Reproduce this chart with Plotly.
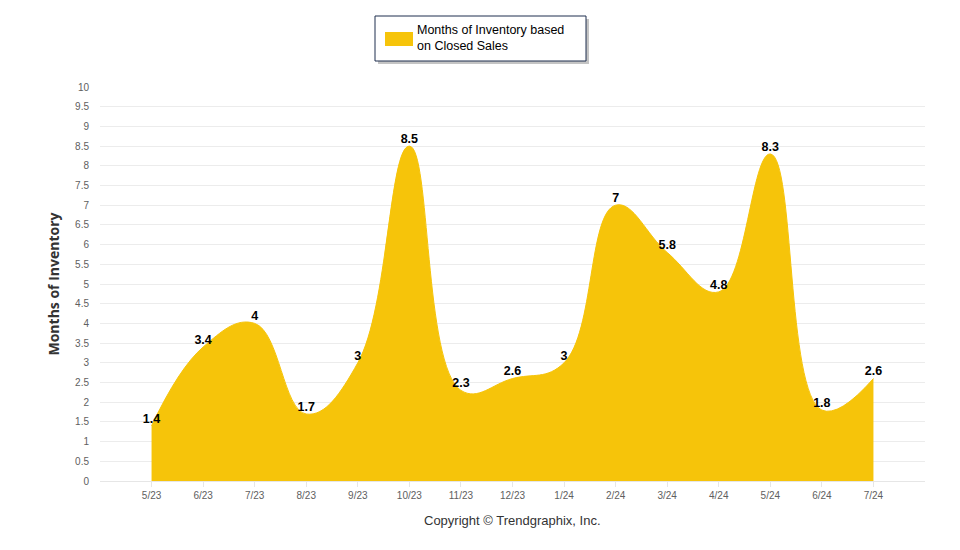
import plotly.graph_objects as go

# Données
mois = ["5/23", "6/23", "7/23", "8/23", "9/23", "10/23", "11/23", "12/23",
        "1/24", "2/24", "3/24", "4/24", "5/24", "6/24", "7/24"]
inventaire = [1.4, 3.4, 4, 1.7, 3, 8.5, 2.3, 2.6, 3, 7, 5.8, 4.8, 8.3, 1.8, 2.6]
y_ticks = [i * 0.5 for i in range(21)]
nom_serie = "Months of Inventory based<br>on Closed Sales"

jaune = "#F6C40A"

# Zone de tracé (pixels de la capture)
X0, X1, Y0, Y1 = 100, 925, 87, 481


def px(x):
    return (x - X0) / (X1 - X0)


def py(y):
    return (Y1 - y) / (Y1 - Y0)


fig = go.Figure()

fig.add_trace(go.Scatter(
    x=mois,
    y=inventaire,
    mode='lines+text',
    line_shape='spline',
    line=dict(color=jaune, width=1, smoothing=1.2),
    fill='tozeroy',
    fillcolor=jaune,
    text=[f"{v:g}" for v in inventaire],
    textposition='top center',
    textfont=dict(family="Arial", size=12.5, color="#000000", weight="bold"),
    name=nom_serie,
    hoverinfo='x+y',
    showlegend=False,
))

# Légende dessinée à la main (boîte + ombre + carré jaune)
formes = [
    dict(type='rect', xref='paper', yref='paper',
         x0=px(378), x1=px(589), y0=py(64), y1=py(19),
         fillcolor='#c4c4c4', line=dict(width=0), layer='above'),
    dict(type='rect', xref='paper', yref='paper',
         x0=px(375), x1=px(586), y0=py(61), y1=py(16),
         fillcolor='white', line=dict(color='#1f2f4f', width=1), layer='above'),
    dict(type='rect', xref='paper', yref='paper',
         x0=px(385), x1=px(413), y0=py(46), y1=py(32),
         fillcolor=jaune, line=dict(width=0), layer='above'),
]

fig.update_layout(
    width=960,
    height=550,
    plot_bgcolor='white',
    paper_bgcolor='white',
    margin=dict(l=92, r=43, t=79, b=77),
    showlegend=False,
    shapes=formes,
    xaxis=dict(
        type='category',
        range=[-1, 15],
        showgrid=False,
        showline=True,
        linecolor='#e6e6e6',
        ticks='outside',
        tickcolor='#e6e6e6',
        ticklen=5,
        tickfont=dict(family="Arial", size=10, color="#606060"),
    ),
    yaxis=dict(
        range=[0, 10],
        tickmode='array',
        tickvals=y_ticks,
        ticktext=[f"{v:g}" for v in y_ticks],
        showgrid=True,
        gridcolor='#ececec',
        zeroline=False,
        ticklabelstandoff=10,
        tickfont=dict(family="Arial", size=10, color="#606060"),
        title=dict(
            text="Months of Inventory",
            font=dict(family="Open Sans", size=14, color="#333333", weight="bold"),
            standoff=12,
        ),
    ),
    annotations=[
        dict(
            text=nom_serie,
            xref='paper', yref='paper',
            x=px(415), y=py(38),
            xanchor='left', yanchor='middle', align='left',
            showarrow=False,
            font=dict(family="Arial", size=12.5, color="#000000"),
        ),
        dict(
            text="Copyright © Trendgraphix, Inc.",
            xref='paper', yref='paper',
            x=px(512), y=py(520),
            xanchor='center', yanchor='middle',
            showarrow=False,
            font=dict(family="Arial", size=13, color="#333333"),
        ),
    ],
)

fig.write_html("out.html")
